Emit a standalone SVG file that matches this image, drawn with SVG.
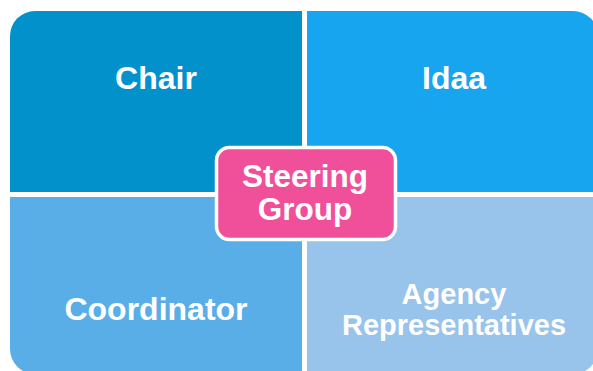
<svg xmlns="http://www.w3.org/2000/svg" width="593" height="371" viewBox="0 0 593 371">
  <style>
    .lbl { font-family: "Liberation Sans", Arial, sans-serif; font-weight: bold; fill: #ffffff; text-anchor: middle; }
    .big { font-size: 32px; }
    .mid { font-size: 29px; }
    .ctr { font-size: 31.5px; }
  </style>
  <rect x="0" y="0" width="593" height="371" fill="#ffffff"/>
  <g id="chair">
    <path d="M10 36 A25 25 0 0 1 35 11 H302 V192 H10 Z" fill="#0391CB"/>
    <text class="lbl big" x="156" y="89">Chair</text>
  </g>
  <g id="idaa">
    <path d="M307 11 H573 A25 25 0 0 1 598 36 V192 H307 Z" fill="#17A5EF"/>
    <text class="lbl big" x="454" y="89">Idaa</text>
  </g>
  <g id="coordinator">
    <path d="M10 197 H302 V374 H35 A25 25 0 0 1 10 349 Z" fill="#5AAEE8"/>
    <text class="lbl big" x="156" y="320">Coordinator</text>
  </g>
  <g id="agency">
    <path d="M307 197 H598 V349 A25 25 0 0 1 573 374 H307 Z" fill="#98C3EA"/>
    <text class="lbl mid" x="454" y="304">Agency</text>
    <text class="lbl mid" x="454" y="335">Representatives</text>
  </g>
  <g id="steering">
    <rect x="216.5" y="147.5" width="179" height="92" rx="13" fill="#F0509A" stroke="#ffffff" stroke-width="3.5"/>
    <text class="lbl ctr" x="305" y="187">Steering</text>
    <text class="lbl ctr" x="305" y="220">Group</text>
  </g>
  <g id="connectors"/>
</svg>
